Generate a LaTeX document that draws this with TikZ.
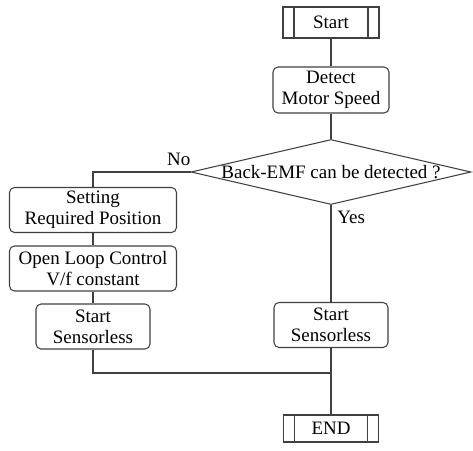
\documentclass[tikz,border=0pt]{standalone}
\usepackage{fontspec}
\setmainfont{Liberation Serif}
\usetikzlibrary{shapes.geometric}

\tikzset{
  flowline/.style={draw=black!75,line width=0.6pt},
  stepbox/.style={flowline,rectangle,rounded corners=0.1cm,align=center,inner sep=1pt},
  procbox/.style={flowline,rectangle,align=center,inner sep=1pt,
    path picture={
      \draw[black!75,line width=0.6pt]
        ([xshift=0.22cm]path picture bounding box.north west)--([xshift=0.22cm]path picture bounding box.south west)
        ([xshift=-0.22cm]path picture bounding box.north east)--([xshift=-0.22cm]path picture bounding box.south east);
    }},
  askbox/.style={flowline,diamond,inner sep=0pt}
}

\begin{document}
\begin{tikzpicture}[x=0.02cm,y=-0.02cm,font=\fontsize{10.8}{12}\selectfont]
  \useasboundingbox (0,0) rectangle (473,450);

  % right column
  \node[procbox,minimum width=1.92cm,minimum height=0.62cm] (start) at (331,22.5) {Start};
  \node[stepbox,minimum width=2.32cm,minimum height=0.92cm] (detect) at (331,90) {Detect\\Motor Speed};
  \node[askbox,minimum width=5.6cm,minimum height=1.3cm] (decide) at (331,172)
    {\makebox[0pt]{Back-EMF can be detected ?}};
  \node[stepbox,minimum width=2.28cm,minimum height=0.9cm] (slright) at (331,325) {Start\\Sensorless};
  \node[procbox,minimum width=1.9cm,minimum height=0.54cm] (end) at (331,428.5) {END};

  % left column
  \node[stepbox,minimum width=3.34cm,minimum height=0.9cm] (setting) at (93,210) {Setting\\Required Position};
  \node[stepbox,minimum width=3.34cm,minimum height=0.9cm] (openloop) at (93,268.5) {Open Loop Control\\V/f constant};
  \node[stepbox,minimum width=2.28cm,minimum height=0.9cm] (slleft) at (93,326.5) {Start\\Sensorless};

  \coordinate (merge) at (331,373);

  \draw[flowline] (start)--(detect);
  \draw[flowline] (detect)--(decide);
  \draw[flowline] (decide.west)-|(setting)node[pos=0.06,above]{No};
  \draw[flowline] (setting)--(openloop);
  \draw[flowline] (openloop)--(slleft);
  \draw[flowline] (decide.south)--(slright)node[pos=0.13,right]{Yes};
  \draw[flowline] (slleft)|-(merge);
  \draw[flowline] (slright)--(end);
\end{tikzpicture}
\end{document}
